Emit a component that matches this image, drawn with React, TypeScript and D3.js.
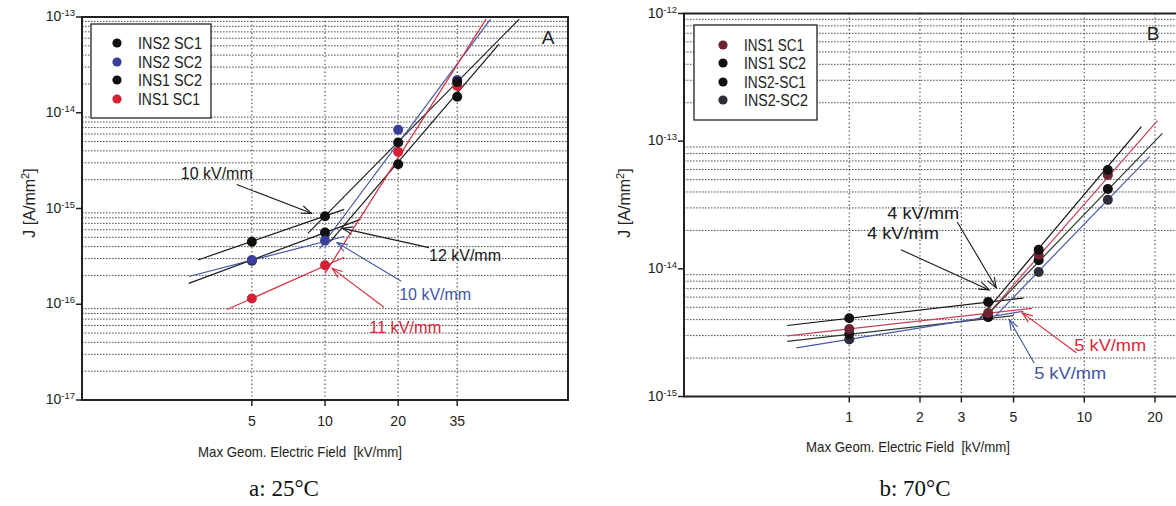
import React from "react";
import * as d3 from "d3";

// ---------------- Panel A : 25°C ----------------
const seriesNamesA = ["INS2 SC1", "INS2 SC2", "INS1 SC2", "INS1 SC1"];
const fieldA = [5, 10, 20, 35];
const jA_INS2_SC1 = [4.5e-16, 8.3e-16, 4.9e-15, 2.1e-14];
const jA_INS2_SC2 = [2.9e-16, 4.6e-16, 6.65e-15, 2.2e-14];
const jA_INS1_SC2 = [2.85e-16, 5.6e-16, 2.9e-15, 1.47e-14];
const jA_INS1_SC1 = [1.15e-16, 2.55e-16, 3.9e-15, 1.9e-14];
// fitted lines [[E0, J0], [E1, J1]]
const lowFitA = [
  [[3.0, 2.9e-16], [12, 9.8e-16]],
  [[2.75, 1.95e-16], [12, 5.1e-16]],
  [[2.75, 1.65e-16], [14, 7.7e-16]],
  [[3.95, 8.8e-17], [12, 3.1e-16]],
];
const highFitA = [
  [[8.5, 5.5e-16], [63, 9.5e-14]],
  [[9.5, 3.8e-16], [48, 9.5e-14]],
  [[10.5, 4.5e-16], [52, 5.2e-14]],
  [[10, 2.1e-16], [46, 9.5e-14]],
];
const xTicksA = [5, 10, 20, 35];
const yTicksA = [1e-17, 1e-16, 1e-15, 1e-14, 1e-13];
const annotLabelsA = ["10 kV/mm", "12 kV/mm", "10 kV/mm", "11 kV/mm"];
const annotTextAtA = [[2.55, 2.37e-15], [26.8, 3.3e-16], [20.2, 1.27e-16], [15.2, 5.75e-17]];
const annotFromA = [[4.33, 1.78e-15], [26.8, 3.9e-16], [20.6, 1.74e-16], [17.5, 9.3e-17]];
const annotToA = [[8.8, 8.9e-16], [11.8, 6.2e-16], [11.2, 4.4e-16], [10.7, 2.37e-16]];

// ---------------- Panel B : 70°C ----------------
const seriesNamesB = ["INS1 SC1", "INS1 SC2", "INS2-SC1", "INS2-SC2"];
const fieldB = [1, 3.9, 6.4, 12.6];
const jB_INS1_SC1 = [3.38e-15, 4.5e-15, 1.29e-14, 5.43e-14];
const jB_INS1_SC2 = [4.1e-15, 5.5e-15, 1.41e-14, 5.95e-14];
const jB_INS2_SC1 = [3.09e-15, 4.2e-15, 1.17e-14, 4.22e-14];
const jB_INS2_SC2 = [2.8e-15, 4.2e-15, 9.46e-15, 3.47e-14];
const lowFitB = [
  [[0.545, 2.98e-15], [6, 4.9e-15]],
  [[0.545, 3.6e-15], [5.5, 5.9e-15]],
  [[0.545, 2.7e-15], [5, 4.3e-15]],
  [[0.595, 2.4e-15], [5.5, 4.65e-15]],
];
const highFitB = [
  [[3.8, 4.2e-15], [20.5, 1.45e-13]],
  [[3.6, 4.1e-15], [17.5, 1.3e-13]],
  [[3.7, 4.0e-15], [21.5, 1.15e-13]],
  [[4.2, 4.3e-15], [19, 7.6e-14]],
];
const xTicksB = [1, 2, 3, 5, 10, 20];
const yTicksB = [1e-15, 1e-14, 1e-13, 1e-12];
const annotLabelsB = ["4 kV/mm", "4 kV/mm", "5 kV/mm", "5 kV/mm"];
const annotTextAtB = [[1.45, 2.74e-14], [1.19, 1.91e-14], [9.07, 2.53e-15], [6.12, 1.53e-15]];
const annotFromB = [[2.88, 2.33e-14], [1.66, 1.41e-14], [9.25, 2.2e-15], [6.12, 1.83e-15]];
const annotToB = [[4.22, 7.1e-15], [3.94, 6.84e-15], [5.45, 4.52e-15], [4.8, 3.98e-15]];

// ---------------- styles ----------------
const markerColorsA = ["#111111", "#3b3f9c", "#111111", "#d41f35"];
const lineColorsA = ["#1a1a1a", "#3f55a5", "#1a1a1a", "#d43040"];
const annotColorsA = ["#1a1a1a", "#1a1a1a", "#3f55a5", "#d42a3a"];
const markerColorsB = ["#6e2232", "#111111", "#111111", "#2e2e3a"];
const lineColorsB = ["#c8405a", "#111111", "#2c3a2c", "#4a5aa8"];
const annotColorsB = ["#1a1a1a", "#1a1a1a", "#d42a3a", "#3f55a5"];

const SANS = "'Liberation Sans', Arial, Helvetica, sans-serif";
const SERIF = "'Liberation Serif', 'Times New Roman', serif";

type Pt = [number, number];

interface PanelCfg {
  id: string;
  x: d3.ScaleLogarithmic<number, number>;
  y: d3.ScaleLogarithmic<number, number>;
  left: number; right: number; top: number; bottom: number;
  xTicks: number[]; yTicks: number[];
  field: number[]; series: number[][]; names: string[];
  lowFit: Pt[][]; highFit: Pt[][];
  markerColors: string[]; lineColors: string[];
  annotLabels: string[]; annotTextAt: Pt[]; annotFrom: Pt[]; annotTo: Pt[]; annotColors: string[];
  drawOrder: number[];
  legend: { x: number; y: number; w: number; h: number; mx: number; tx: number; rows: number[]; tl: number[] };
  letter: string; letterPos: Pt;
  yLabelPos: Pt; xTitleX: number; xTitleY: number; caption: string; captionX: number; captionY: number;
  tickLabelDy: number;
}

const xA = d3.scaleLog().domain([1, 100]).range([82, 568]);
const yA = d3.scaleLog().domain([1e-17, 1e-13]).range([400, 17]);
const xB = d3.scaleLog().domain([0.2, 25]).range([685, 685 + 235 * Math.log10(125)]);
const yB = d3.scaleLog().domain([1e-15, 1e-12]).range([396.5, 13.5]);

function minorValues(dom: number[]) {
  const out: number[] = [];
  const k0 = Math.floor(Math.log10(dom[0]));
  const k1 = Math.ceil(Math.log10(dom[1]));
  for (let k = k0; k <= k1; k++) {
    for (let m = 2; m <= 9; m++) {
      const v = m * Math.pow(10, k);
      if (v > dom[0] && v < dom[1]) out.push(v);
    }
  }
  return out;
}

function Arrow({ from, to, color }: { from: Pt; to: Pt; color: string }) {
  const ang = Math.atan2(from[1] - to[1], from[0] - to[0]);
  const L = 11, a = 0.36;
  const p1: Pt = [to[0] + L * Math.cos(ang + a), to[1] + L * Math.sin(ang + a)];
  const p2: Pt = [to[0] + L * Math.cos(ang - a), to[1] + L * Math.sin(ang - a)];
  return (
    <g stroke={color} strokeWidth={1.1} fill="none">
      <line x1={from[0]} y1={from[1]} x2={to[0]} y2={to[1]} />
      <polyline points={`${p1[0]},${p1[1]} ${to[0]},${to[1]} ${p2[0]},${p2[1]}`} />
    </g>
  );
}

function Panel({ c }: { c: PanelCfg }) {
  const { x, y } = c;
  const line = d3.line<Pt>().x((d) => x(d[0])).y((d) => y(d[1]));
  const hGrid = minorValues(y.domain() as number[]);
  const clipId = `clip-${c.id}`;
  return (
    <g>
      <defs>
        <clipPath id={clipId}>
          <rect x={c.left} y={c.top} width={c.right - c.left} height={c.bottom - c.top} />
        </clipPath>
      </defs>
      {/* grid */}
      <g clipPath={`url(#${clipId})`}>
        {hGrid.map((v, i) => (
          <line key={`h${i}`} x1={c.left} x2={c.right} y1={y(v)} y2={y(v)}
            stroke="#333" strokeWidth={1} strokeDasharray="1.6 1.4" opacity={0.85} />
        ))}
        {c.xTicks.map((v, i) => (
          <line key={`v${i}`} x1={x(v)} x2={x(v)} y1={c.top} y2={c.bottom}
            stroke="#333" strokeWidth={1.1} strokeDasharray="1.3 2.6" opacity={0.95} />
        ))}
      </g>
      {/* legend */}
      <rect x={c.legend.x} y={c.legend.y} width={c.legend.w} height={c.legend.h}
        fill="#fff" stroke="#222" strokeWidth={1.3} />
      {c.names.map((n, i) => (
        <g key={n}>
          <circle cx={c.legend.mx} cy={c.legend.rows[i]} r={4.6} fill={c.markerColors[i]} />
          <text x={c.legend.tx} y={c.legend.rows[i]} dy="0.36em" fontFamily={SANS} fontSize={16}
            textLength={c.legend.tl[i]} lengthAdjust="spacingAndGlyphs" fill="#222">{n}</text>
        </g>
      ))}
      {/* fit lines */}
      <g clipPath={`url(#${clipId})`} fill="none">
        {c.lowFit.map((seg, i) => (
          <path key={`l${i}`} d={line(seg) || ""} stroke={c.lineColors[i]} strokeWidth={1.2} />
        ))}
        {c.highFit.map((seg, i) => (
          <path key={`hf${i}`} d={line(seg) || ""} stroke={c.lineColors[i]} strokeWidth={1.2} />
        ))}
      </g>
      {/* annotations */}
      {c.annotLabels.map((t, i) => (
        <g key={`a${i}`}>
          <Arrow from={[x(c.annotFrom[i][0]), y(c.annotFrom[i][1])]}
            to={[x(c.annotTo[i][0]), y(c.annotTo[i][1])]} color={c.annotColors[i]} />
          <text x={x(c.annotTextAt[i][0])} y={y(c.annotTextAt[i][1])} dy="0.36em"
            fontFamily={SANS} fontSize={17} textLength={72} lengthAdjust="spacingAndGlyphs"
            fill={c.annotColors[i]}>{t}</text>
        </g>
      ))}
      {/* points */}
      {c.drawOrder.map((si) => (
        <g key={`p${si}`}>
          {c.field.map((e, k) => (
            <circle key={k} cx={x(e)} cy={y(c.series[si][k])} r={5} fill={c.markerColors[si]} />
          ))}
        </g>
      ))}
      {/* frame */}
      <rect x={c.left} y={c.top} width={c.right - c.left} height={c.bottom - c.top}
        fill="none" stroke="#222" strokeWidth={2} />
      {/* y ticks */}
      {c.yTicks.map((v, i) => {
        const exp = Math.round(Math.log10(v));
        return (
          <g key={`yt${i}`}>
            <line x1={c.left - 6} x2={c.left} y1={y(v)} y2={y(v)} stroke="#222" strokeWidth={1.5} />
            <text x={c.left - 7} y={y(v)} dy="0.3em" textAnchor="end" fontFamily={SANS} fontSize={14} fill="#222">
              10<tspan fontSize={9.5} dy={-5}>{exp}</tspan>
            </text>
          </g>
        );
      })}
      {/* x ticks */}
      {c.xTicks.map((v, i) => (
        <g key={`xt${i}`}>
          <line x1={x(v)} x2={x(v)} y1={c.bottom} y2={c.bottom + 6} stroke="#222" strokeWidth={1.5} />
          <text x={x(v)} y={c.bottom + c.tickLabelDy} dy="0.35em" textAnchor="middle"
            fontFamily={SANS} fontSize={14} fill="#222">{v}</text>
        </g>
      ))}
      {/* letter */}
      <text x={c.letterPos[0]} y={c.letterPos[1]} dy="0.36em" textAnchor="middle"
        fontFamily={SANS} fontSize={19} fill="#222">{c.letter}</text>
      {/* y label */}
      <text transform={`translate(${c.yLabelPos[0]},${c.yLabelPos[1]}) rotate(-90)`} textAnchor="middle"
        dy="0.36em" fontFamily={SANS} fontSize={16} fill="#222">
        J  [A/mm<tspan fontSize={11} dy={-6}>2</tspan><tspan dy={6}>]</tspan>
      </text>
      {/* x title */}
      <text x={c.xTitleX} y={c.xTitleY} dy="0.36em" textAnchor="middle" fontFamily={SANS}
        fontSize={15} textLength={204} lengthAdjust="spacingAndGlyphs" fill="#222"
        style={{ whiteSpace: "pre" }}>Max Geom. Electric Field  [kV/mm]</text>
      {/* caption */}
      <text x={c.captionX} y={c.captionY} dy="0.36em" textAnchor="middle" fontFamily={SERIF}
        fontSize={23} fill="#111">{c.caption}</text>
    </g>
  );
}

const cfgA: PanelCfg = {
  id: "A", x: xA, y: yA, left: 82, right: 568, top: 17, bottom: 400,
  xTicks: xTicksA, yTicks: yTicksA, field: fieldA,
  series: [jA_INS2_SC1, jA_INS2_SC2, jA_INS1_SC2, jA_INS1_SC1], names: seriesNamesA,
  lowFit: lowFitA as Pt[][], highFit: highFitA as Pt[][],
  markerColors: markerColorsA, lineColors: lineColorsA,
  annotLabels: annotLabelsA, annotTextAt: annotTextAtA as Pt[], annotFrom: annotFromA as Pt[],
  annotTo: annotToA as Pt[], annotColors: annotColorsA,
  drawOrder: [3, 2, 1, 0],
  legend: { x: 91, y: 24, w: 120, h: 94, mx: 117, tx: 138, rows: [43, 62, 80, 99], tl: [64, 64, 64, 62] },
  letter: "A", letterPos: [548, 37],
  yLabelPos: [29, 203], xTitleX: 300, xTitleY: 452, caption: "a: 25°C", captionX: 284, captionY: 488,
  tickLabelDy: 21,
};

const cfgB: PanelCfg = {
  id: "B", x: xB, y: yB, left: 684, right: 1180, top: 13.5, bottom: 396.5,
  xTicks: xTicksB, yTicks: yTicksB, field: fieldB,
  series: [jB_INS1_SC1, jB_INS1_SC2, jB_INS2_SC1, jB_INS2_SC2], names: seriesNamesB,
  lowFit: lowFitB as Pt[][], highFit: highFitB as Pt[][],
  markerColors: markerColorsB, lineColors: lineColorsB,
  annotLabels: annotLabelsB, annotTextAt: annotTextAtB as Pt[], annotFrom: annotFromB as Pt[],
  annotTo: annotToB as Pt[], annotColors: annotColorsB,
  drawOrder: [3, 2, 0, 1],
  legend: { x: 694, y: 25, w: 123, h: 95, mx: 723, tx: 744, rows: [45, 63, 82, 100], tl: [60, 62, 62, 64] },
  letter: "B", letterPos: [1153, 33],
  yLabelPos: [624, 203], xTitleX: 908, xTitleY: 447, caption: "b: 70°C", captionX: 915, captionY: 488,
  tickLabelDy: 21,
};

export default function App() {
  return (
    <svg width={1176} height={506} viewBox="0 0 1176 506"
      style={{ position: "absolute", left: 0, top: 0, background: "#fff" }}>
      <rect x={0} y={0} width={1176} height={506} fill="#fff" />
      <Panel c={cfgA} />
      <Panel c={cfgB} />
    </svg>
  );
}
